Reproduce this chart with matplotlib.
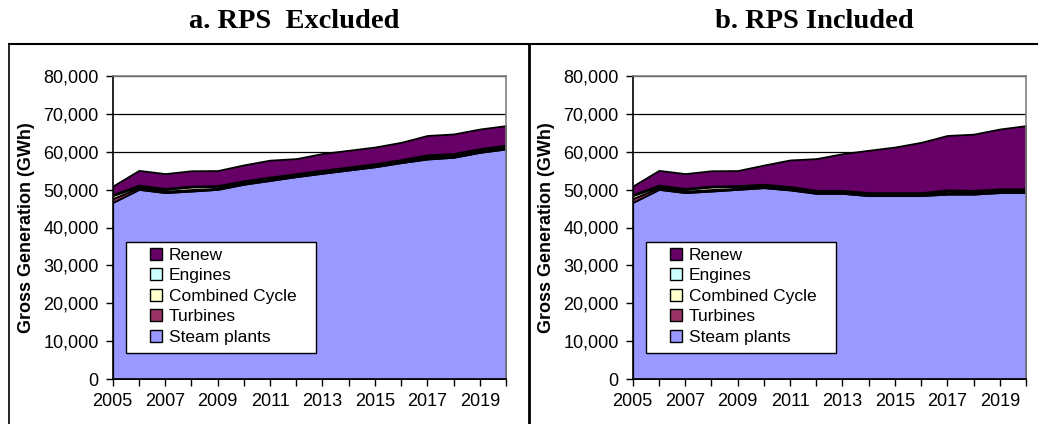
import matplotlib
matplotlib.use("Agg")
import matplotlib.pyplot as plt
from matplotlib.patches import Patch, Rectangle
from matplotlib.lines import Line2D
from matplotlib.ticker import FuncFormatter, MultipleLocator

years = list(range(2005, 2021))
series_names = ["Steam plants", "Turbines", "Combined Cycle", "Engines", "Renew"]
colors = ["#9999FF", "#993366", "#FFFFCC", "#CCFFFF", "#660066"]

turbines = [1000, 500, 400, 400, 300, 300, 300, 300, 300, 300, 300, 300, 400, 400, 400, 400]
combined = [800, 400, 500, 700, 500, 400, 400, 300, 300, 300, 300, 300, 500, 400, 400, 400]
engines = [300, 200, 200, 200, 200, 200, 200, 200, 200, 200, 200, 200, 200, 200, 200, 200]

steam_a = [46600, 50050, 49200, 49600, 50050, 51400, 52400, 53400, 54300, 55150, 56000, 57100, 58050, 58500, 59800, 60700]
renew_a = [2200, 3900, 3900, 4050, 3950, 4200, 4450, 3950, 4400, 4400, 4400, 4550, 5100, 5150, 5150, 5150]

steam_b = [46600, 50050, 49200, 49600, 50050, 50500, 49900, 49000, 49000, 48400, 48400, 48400, 48800, 48800, 49200, 49200]
renew_b = [2200, 3900, 3900, 4050, 3950, 5050, 7000, 8350, 9650, 11150, 12000, 13250, 14350, 14800, 15750, 16650]

titles = ["a. RPS  Excluded", "b. RPS Included"]
ylabel = "Gross Generation (GWh)"

fig = plt.figure(figsize=(10.38, 4.24), dpi=100)
W, H = 1038, 424

def fx(px):
    return px / W

def fy(py):
    return 1 - py / H

panels = [(steam_a, renew_a), (steam_b, renew_b)]
offsets = [0, 520]
for i, ((steam, renew), off) in enumerate(zip(panels, offsets)):
    left = 112.7 + off
    ax = fig.add_axes([fx(left), fy(379.3), 393.3 / W, 303.6 / H])
    ax.set_axisbelow(True)
    ax.yaxis.grid(True, color="black", linewidth=0.9)
    ax.stackplot(years, steam, turbines, combined, engines, renew,
                 colors=colors, edgecolor="black", linewidth=1.3)
    ax.set_xlim(2005, 2020)
    ax.set_ylim(0, 80000)
    ax.yaxis.set_major_locator(MultipleLocator(10000))
    ax.yaxis.set_major_formatter(FuncFormatter(lambda v, p: f"{int(v):,}"))
    ax.set_xticks(years)
    ax.set_xticklabels([str(y) if (y - 2005) % 2 == 0 else "" for y in years])
    ax.tick_params(axis="both", labelsize=13, length=5, width=1, direction="out",
                   colors="black", pad=5)
    for lbl in ax.get_xticklabels() + ax.get_yticklabels():
        lbl.set_fontfamily("Liberation Sans")
    ax.spines["left"].set_color("black")
    ax.spines["bottom"].set_color("black")
    ax.spines["top"].set_color("#808080")
    ax.spines["right"].set_color("#808080")
    for s in ax.spines.values():
        s.set_linewidth(1.2)
    ax.set_ylabel(ylabel, fontsize=13, fontweight="bold", family="Liberation Sans", labelpad=6)
    # legend frame
    ax.add_patch(Rectangle((0.033, 0.0856), 0.484, 0.367, transform=ax.transAxes,
                           facecolor="white", edgecolor="black", linewidth=1.0, zorder=5))
    handles = [Patch(facecolor=c, edgecolor="black", linewidth=1.0) for c in colors][::-1]
    labels = series_names[::-1]
    leg = ax.legend(handles, labels, loc="upper left", bbox_to_anchor=(0.085, 0.445),
                    frameon=False, prop={"family": "Liberation Sans", "size": 12.5},
                    handlelength=0.7, handleheight=0.7, handletextpad=0.4,
                    labelspacing=0.31, borderpad=0.2, borderaxespad=0)
    leg.set_zorder(6)
    fig.text(fx(294 + off), fy(22), titles[i], ha="center", va="center",
             fontsize=20.5, fontweight="bold", family="Liberation Serif")

# outer frame lines
fig.add_artist(Line2D([fx(9), fx(1038)], [fy(43.5), fy(43.5)], color="black", linewidth=1.5))
fig.add_artist(Line2D([fx(9), fx(9)], [fy(43.5), 0], color="black", linewidth=1.2))
fig.add_artist(Line2D([fx(529), fx(529)], [fy(43.5), 0], color="black", linewidth=2))

fig.savefig("out.png", dpi=100)
